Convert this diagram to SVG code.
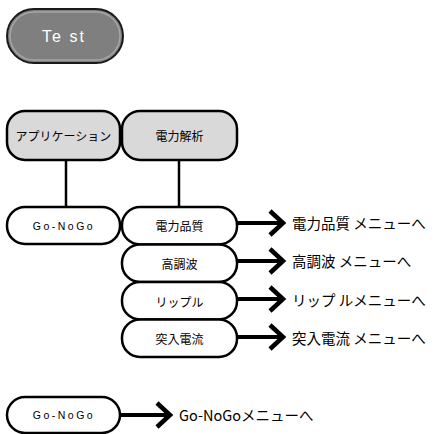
<svg xmlns="http://www.w3.org/2000/svg" width="438" height="434" viewBox="0 0 438 434">
<defs>
<style>
.box{fill:#ffffff;stroke:#000;stroke-width:2.5}
.hdr{fill:#d9d9d9;stroke:#000;stroke-width:2.5}
.lbl{font-family:"Noto Sans CJK JP","Liberation Sans",sans-serif;font-size:12px;fill:#000;text-anchor:middle;dominant-baseline:central}
.gng{font-family:"Liberation Sans","Noto Sans CJK JP",sans-serif;font-size:10.5px;letter-spacing:2.5px;fill:#000;text-anchor:middle;dominant-baseline:central}
.out{font-family:"Noto Sans CJK JP","Liberation Sans",sans-serif;font-size:14.5px;fill:#000;dominant-baseline:central}
.ln{stroke:#000;stroke-width:2.5;fill:none}
.arr{stroke:#000;stroke-width:4;fill:none}
.chev{stroke:#000;stroke-width:4.5;fill:none;stroke-linejoin:miter}
</style>
</defs>
<g id="test">
<rect x="7" y="9" width="116" height="54" rx="27" fill="#7f7f7f" stroke="#1a1a1a" stroke-width="2"/>
<rect x="10" y="12" width="110" height="48" rx="24" fill="none" stroke="#a6a6a6" stroke-width="1.5"/>
<text x="64" y="36" font-family="'Liberation Sans',sans-serif" font-size="16" fill="#ffffff" text-anchor="middle" dominant-baseline="central" letter-spacing="2">Te st</text>
</g>
<g id="connectors">
<line class="ln" x1="66" y1="160" x2="66" y2="207"/>
<line class="ln" x1="179" y1="160" x2="179" y2="207"/>
<line class="arr" x1="237" y1="223" x2="283" y2="223"/>
<polyline class="chev" points="270,211 283,223 270,235"/>
<line class="arr" x1="237" y1="261" x2="283" y2="261"/>
<polyline class="chev" points="270,249 283,261 270,273"/>
<line class="arr" x1="237" y1="299" x2="283" y2="299"/>
<polyline class="chev" points="270,287 283,299 270,311"/>
<line class="arr" x1="237" y1="337" x2="283" y2="337"/>
<polyline class="chev" points="270,325 283,337 270,349"/>
<line class="arr" x1="121" y1="415" x2="170" y2="415"/>
<polyline class="chev" points="157,403 170,415 157,427"/>
</g>
<g id="app">
<rect class="hdr" x="7" y="111" width="113" height="49" rx="18"/>
<text class="lbl" x="63.5" y="135.5">アプリケーション</text>
</g>
<g id="power">
<rect class="hdr" x="122" y="111" width="115" height="49" rx="18"/>
<text class="lbl" x="179.5" y="135.5">電力解析</text>
</g>
<g id="gonogo1">
<rect class="box" x="7" y="207" width="113" height="37" rx="18"/>
<text class="gng" x="64" y="225.5">Go-NoGo</text>
</g>
<g id="quality">
<rect class="box" x="122" y="207" width="115" height="37.5" rx="18"/>
<text class="lbl" x="179.5" y="225.5">電力品質</text>
</g>
<g id="harmonic">
<rect class="box" x="122" y="244.5" width="115" height="37.5" rx="18"/>
<text class="lbl" x="179.5" y="263">高調波</text>
</g>
<g id="ripple">
<rect class="box" x="122" y="282" width="115" height="37.5" rx="18"/>
<text class="lbl" x="179.5" y="301">リップル</text>
</g>
<g id="inrush">
<rect class="box" x="122" y="319.5" width="115" height="37.5" rx="18"/>
<text class="lbl" x="179.5" y="338.5">突入電流</text>
</g>
<g id="labels">
<text class="out" x="292" y="222">電力品質 メニューへ</text>
<text class="out" x="292" y="260">高調波 メニューへ</text>
<text class="out" x="292" y="299">リップ ルメニューへ</text>
<text class="out" x="292" y="337">突入電流 メニューへ</text>
<text class="out" x="179" y="414" font-size="13.5">Go-NoGoメニューへ</text>
</g>
<g id="gonogo2">
<rect class="box" x="7" y="397" width="113" height="36" rx="18"/>
<text class="gng" x="64" y="415">Go-NoGo</text>
</g>
</svg>
